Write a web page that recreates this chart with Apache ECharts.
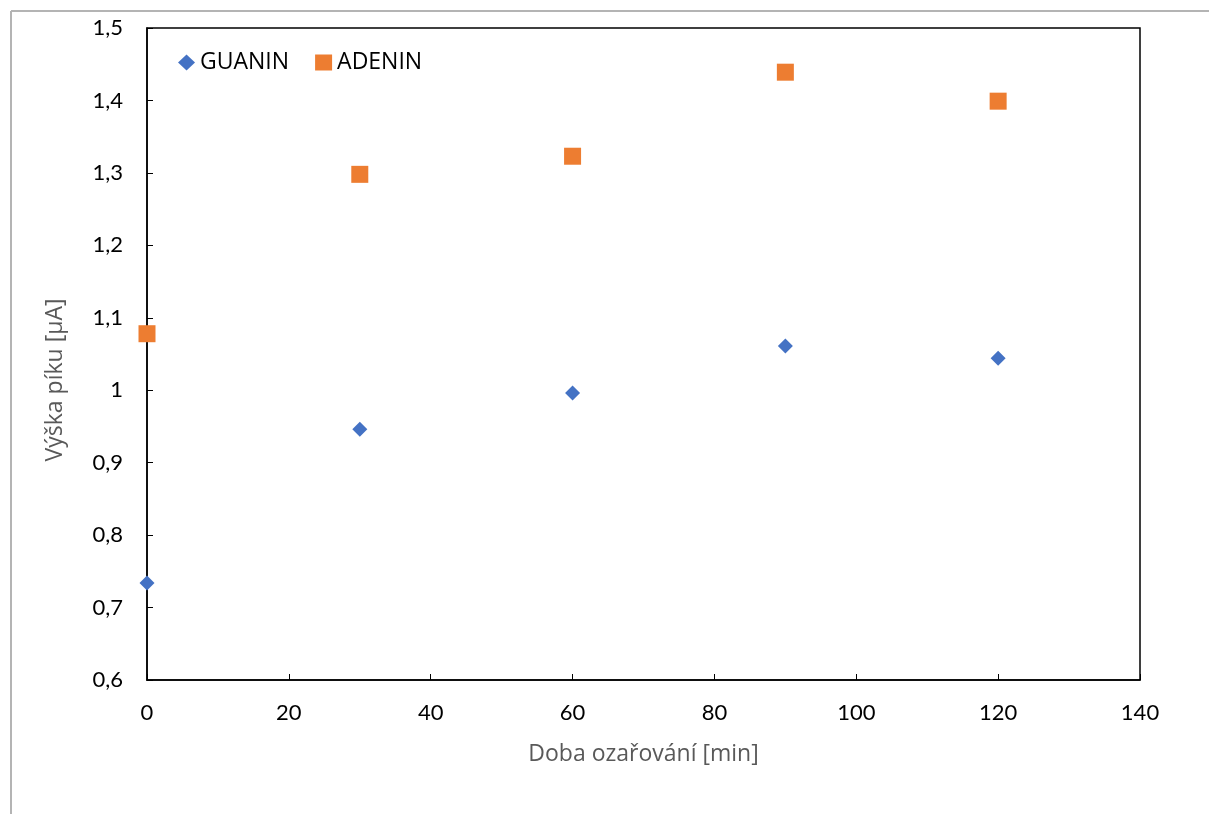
<!DOCTYPE html>
<html>
<head>
<meta charset="utf-8">
<title>Výška píku</title>
<script src="https://cdn.jsdelivr.net/npm/echarts@6/dist/echarts.min.js"></script>
<style>
  html, body { margin: 0; padding: 0; background: #fff; }
  #main { width: 1209px; height: 814px; }
</style>
</head>
<body>
<div id="main"></div>
<script>
// doba ozařování [min]
const times = [0, 30, 60, 90, 120]
// výška píku [µA]
const guanin = [0.734, 0.946, 0.996, 1.061, 1.044]
const adenin = [1.078, 1.298, 1.323, 1.439, 1.399]

const pairs = (xs, ys) => xs.map((x, i) => [x, ys[i]])
const fmtComma = v => String(Math.round(v * 10) / 10).replace('.', ',')

const tickFont = 'Lato, "Noto Sans", sans-serif'
const titleFont = '"Open Sans", "Noto Sans", sans-serif'

const chart = echarts.init(document.getElementById('main'))
chart.setOption({
  animation: false,
  textStyle: { fontFamily: tickFont },
  graphic: [
    // šedý rámeček okolo grafu
    { type: 'line', shape: { x1: 11, y1: 11, x2: 1209, y2: 11 }, style: { stroke: '#b4b4b4', lineWidth: 2 } },
    { type: 'line', shape: { x1: 11, y1: 11, x2: 11, y2: 814 }, style: { stroke: '#b4b4b4', lineWidth: 2 } }
  ],
  grid: {
    left: 147, right: 69, top: 28, bottom: 134,
    show: true, borderColor: '#000', borderWidth: 1.5
  },
  legend: {
    left: 173, top: 46,
    itemGap: 26, itemWidth: 17, itemHeight: 16,
    textStyle: { fontSize: 23, color: '#000', fontFamily: titleFont },
    data: [
      { name: 'GUANIN', icon: 'diamond' },
      { name: 'ADENIN', icon: 'rect' }
    ]
  },
  xAxis: {
    type: 'value',
    min: 0, max: 140, interval: 20,
    name: 'Doba ozařování [min]',
    nameLocation: 'middle', nameGap: 63,
    nameTextStyle: { fontSize: 23, color: '#595959', fontFamily: titleFont },
    axisLine: { show: true, lineStyle: { color: '#000', width: 1.5 } },
    axisTick: { show: true, inside: true, length: 6, lineStyle: { color: '#000' } },
    axisLabel: { fontSize: 22, color: '#000', margin: 22 },
    splitLine: { show: false }
  },
  yAxis: {
    type: 'value',
    min: 0.6, max: 1.5, interval: 0.1,
    name: 'Výška píku [µA]',
    nameLocation: 'middle', nameGap: 80,
    nameTextStyle: { fontSize: 23, color: '#595959', fontFamily: titleFont, padding: [0, 52, 0, 0] },
    axisLine: { show: true, lineStyle: { color: '#000', width: 1.5 } },
    axisTick: { show: true, inside: true, length: 6, lineStyle: { color: '#000' } },
    axisLabel: { fontSize: 22, color: '#000', margin: 24, formatter: fmtComma },
    splitLine: { show: false }
  },
  series: [
    {
      name: 'GUANIN',
      type: 'scatter',
      symbol: 'diamond',
      symbolSize: 15,
      itemStyle: { color: '#4472C4', opacity: 1 },
      data: pairs(times, guanin)
    },
    {
      name: 'ADENIN',
      type: 'scatter',
      symbol: 'rect',
      symbolSize: 17,
      itemStyle: { color: '#ED7D31', opacity: 1 },
      data: pairs(times, adenin)
    }
  ]
})

window.onresize = () => {
  chart.resize()
}
</script>
</body>
</html>
